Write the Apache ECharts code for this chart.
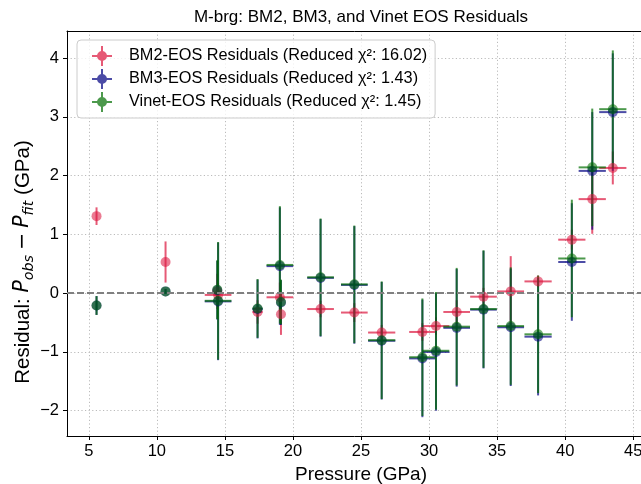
<!DOCTYPE html>
<html>
<head>
<meta charset="utf-8">
<script src="https://cdn.jsdelivr.net/npm/echarts@6/dist/echarts.min.js"></script>
<style>
  html, body { margin: 0; padding: 0; background: #fff; }
  #chart { width: 641px; height: 484px; }
</style>
</head>
<body>
<div id="chart"></div>
<script>
// Pressure points (GPa) and their uncertainties, shared by all three fits
const pressure    = [5.57, 10.64, 14.44, 14.50, 17.40, 19.04, 19.12, 22.03, 24.51, 26.52, 29.51, 30.51, 32.03, 34.00, 36.00, 38.01, 40.49, 41.99, 43.50];
const pressureErr = [0, 0, 0, 0.98, 0.37, 0.98, 0, 0.98, 0.98, 1.0, 0.97, 0.98, 0.98, 0.98, 0.98, 1.0, 1.0, 1.0, 1.0];

// Residuals P_obs - P_fit (GPa) and their error bars for each EOS
const bm2Resid   = [1.31, 0.53, 0.03, -0.03, -0.32, -0.07, -0.36, -0.27, -0.33, -0.67, -0.66, -0.56, -0.32, -0.06, 0.03, 0.20, 0.91, 1.60, 2.13];
const bm2Err     = [0.15, 0.35, 0.30, 0.20, 0.20, 0.25, 0.35, 0.14, 0.16, 0.13, 0.15, 0.15, 0.20, 0.15, 0.60, 0.10, 0.17, 0.59, 0.28];
const bm3Resid   = [-0.21, 0.03, 0.05, -0.14, -0.27, 0.46, -0.16, 0.26, 0.14, -0.81, -1.11, -1.00, -0.59, -0.28, -0.58, -0.74, 0.53, 2.08, 3.08];
const bm3Err     = [0.16, 0.04, 0.50, 1.0, 0.50, 1.0, 0.38, 1.0, 1.0, 1.0, 1.0, 1.0, 1.0, 1.0, 1.0, 1.0, 1.0, 1.0, 1.0];
const vinetResid = [-0.21, 0.03, 0.06, -0.13, -0.26, 0.48, -0.15, 0.27, 0.15, -0.80, -1.09, -0.98, -0.57, -0.27, -0.56, -0.70, 0.59, 2.14, 3.13];
const vinetErr   = [0.16, 0.04, 0.50, 1.0, 0.50, 1.0, 0.38, 1.0, 1.0, 1.0, 1.0, 1.0, 1.0, 1.0, 1.0, 1.0, 1.0, 1.0, 1.0];

// Reduced chi-squared of each fit
const eosNames = ['BM2-EOS', 'BM3-EOS', 'Vinet-EOS'];
const chiSq    = [16.02, 1.43, 1.45];

// Tick values
const xTicks = [5, 10, 15, 20, 25, 30, 35, 40, 45];
const yTicks = [-2, -1, 0, 1, 2, 3, 4];

const FONT = '"Liberation Sans", Arial, Helvetica, sans-serif';
const MATH = '"DejaVu Sans", sans-serif';
const colors = ['rgba(220,20,60,0.7)', 'rgba(0,0,128,0.7)', 'rgba(0,110,0,0.7)'];
const resids = [bm2Resid, bm3Resid, vinetResid];
const errs = [bm2Err, bm3Err, vinetErr];
const labels = eosNames.map((n, i) => n + ' Residuals (Reduced χ²: ' + chiSq[i].toFixed(2) + ')');

// Legend icon: a marker with crossing error bars
const ebIcon = 'path://M0,9 L20,9 L20,11 L0,11 Z M9,0 L11,0 L11,20 L9,20 Z M5,10 A5,5 0 0 1 15,10 A5,5 0 0 1 5,10 Z';

function errorBarRenderer(color) {
  return function (params, api) {
    const x = api.value(0), y = api.value(1), xe = api.value(2), ye = api.value(3);
    const c = api.coord([x, y]);
    const children = [];
    if (ye > 0) {
      const t = api.coord([x, y + ye]), b = api.coord([x, y - ye]);
      children.push({ type: 'line', shape: { x1: c[0], y1: t[1], x2: c[0], y2: b[1] },
        style: { stroke: color, lineWidth: 2 } });
    }
    if (xe > 0) {
      const l = api.coord([x - xe, y]), r = api.coord([x + xe, y]);
      children.push({ type: 'line', shape: { x1: l[0], y1: c[1], x2: r[0], y2: c[1] },
        style: { stroke: color, lineWidth: 2 } });
    }
    return { type: 'group', children: children };
  };
}

const series = [{
  // zero reference line
  type: 'scatter', data: [], silent: true,
  markLine: {
    silent: true, symbol: 'none', label: { show: false },
    lineStyle: { color: '#808080', type: [7, 3], width: 1.8 },
    data: [{ yAxis: 0 }]
  }
}];

for (let s = 0; s < 3; s++) {
  const pts = pressure.map((p, i) => [p, resids[s][i], pressureErr[i], errs[s][i]]);
  series.push({
    name: labels[s], type: 'custom', renderItem: errorBarRenderer(colors[s]),
    encode: { x: 0, y: 1 }, data: pts, silent: true, itemStyle: { color: colors[s] }
  });
  series.push({
    name: labels[s], type: 'scatter', data: pts.map(d => [d[0], d[1]]),
    symbol: 'circle', symbolSize: 10, silent: true,
    itemStyle: { color: colors[s] }
  });
}

const chart = echarts.init(document.getElementById('chart'), null, { renderer: 'canvas' });
chart.setOption({
  animation: false,
  backgroundColor: '#fff',
  textStyle: { fontFamily: FONT },
  grid: { left: 67, top: 31, right: -14, bottom: 48, outerBoundsMode: 'none', containLabel: false },
  legend: {
    orient: 'vertical', left: 77, top: 40,
    data: labels.map(n => ({ name: n, icon: ebIcon })),
    itemWidth: 20, itemHeight: 20, itemGap: 3,
    padding: [6, 8, 6, 15],
    borderColor: '#cccccc', borderWidth: 1, borderRadius: 4,
    backgroundColor: 'rgba(255,255,255,0.8)',
    textStyle: { fontFamily: FONT, fontSize: 16.3, color: '#000', padding: [0, 0, 0, 12] },
    selectedMode: false
  },
  xAxis: [{
    type: 'value', min: 3.4, max: 46.6,
    name: 'Pressure (GPa)', nameLocation: 'middle', nameGap: 24,
    nameTextStyle: { fontFamily: FONT, fontSize: 19, color: '#000' },
    axisLine: { show: true, onZero: false, lineStyle: { color: '#000', width: 1 } },
    axisTick: { show: true, inside: false, length: 4, customValues: xTicks, lineStyle: { color: '#000' } },
    axisLabel: { customValues: xTicks, fontFamily: FONT, fontSize: 16.5, color: '#000', margin: 7 },
    splitLine: { show: true, lineStyle: { color: '#bbbbbb', type: [1.2, 2.4], width: 1 } }
  }, {
    type: 'value', position: 'top', min: 3.4, max: 46.6,
    axisLine: { show: true, onZero: false, lineStyle: { color: '#000', width: 1 } },
    axisTick: { show: false }, axisLabel: { show: false }, splitLine: { show: false }
  }],
  yAxis: [{
    type: 'value', min: -2.43, max: 4.46,
    axisLine: { show: true, onZero: false, lineStyle: { color: '#000', width: 1 } },
    axisTick: { show: true, inside: false, length: 4, customValues: yTicks, lineStyle: { color: '#000' } },
    axisLabel: { customValues: yTicks, fontFamily: FONT, fontSize: 16.5, color: '#000', margin: 8,
      formatter: v => String(v).replace('-', '\u2212') },
    splitLine: { show: true, lineStyle: { color: '#bbbbbb', type: [1.2, 2.4], width: 1 } }
  }, {
    type: 'value', position: 'right', min: -2.43, max: 4.46,
    axisLine: { show: true, onZero: false, lineStyle: { color: '#000', width: 1 } },
    axisTick: { show: false }, axisLabel: { show: false }, splitLine: { show: false }
  }],
  graphic: [{
    type: 'text', x: 361, y: 17,
    style: { text: 'M-brg: BM2, BM3, and Vinet EOS Residuals', font: '17px ' + FONT,
      fill: '#000', align: 'center', verticalAlign: 'middle' }
  }, {
    type: 'text', x: 23, y: 262, rotation: Math.PI / 2,
    style: {
      text: 'Residual: {i|P}{s|obs}{m|\u2212}{i|P}{s|fit} (GPa)',
      font: '20.5px ' + FONT, fill: '#000', align: 'center', verticalAlign: 'middle',
      lineHeight: 26,
      rich: {
        i: { fontFamily: MATH, fontSize: 20.5, fontStyle: 'italic', lineHeight: 26, fill: '#000' },
        s: { fontFamily: MATH, fontSize: 14.3, fontStyle: 'italic', lineHeight: 16, verticalAlign: 'bottom', fill: '#000' },
        m: { fontFamily: MATH, fontSize: 20.5, lineHeight: 26, padding: [0, 5, 0, 5], fill: '#000' }
      }
    }
  }],
  series: series
});
</script>
</body>
</html>
